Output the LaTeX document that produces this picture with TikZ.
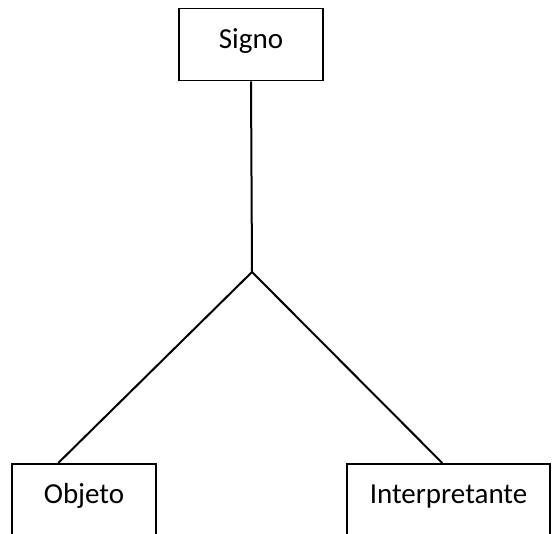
\documentclass[tikz,border=0pt]{standalone}
\usepackage{fontspec}
\setmainfont{Carlito}
\usetikzlibrary{positioning,calc}

\tikzset{
	caixa/.style={draw, line width=1.5pt, inner sep=0pt, anchor=north,
		font=\fontsize{29}{33}\selectfont, text height=40pt},
	liga/.style={line width=2pt}
}

\begin{document}
\begin{tikzpicture}[x=1pt,y=-1pt]
	\useasboundingbox (0,0) rectangle (553,534);
	\clip (0,0) rectangle (553,534);
		\node[caixa, minimum width=144pt, text depth=32pt] (signo) at (251,8) {Signo};
		\node[caixa, minimum width=144pt, text depth=70pt] (objeto) at (84,463) {Objeto};
		\node[caixa, minimum width=203pt, text depth=70pt] (interp) at (448.5,463) {Interpretante};
		\coordinate (juncao) at (252,272);
		
		\draw[liga] (signo.south) -- (juncao);
		\draw[liga] (juncao) -- ($(objeto.north west)+(47,0)$);
		\draw[liga] (juncao) -- ($(interp.north west)+(96,0)$);
\end{tikzpicture}
\end{document}
